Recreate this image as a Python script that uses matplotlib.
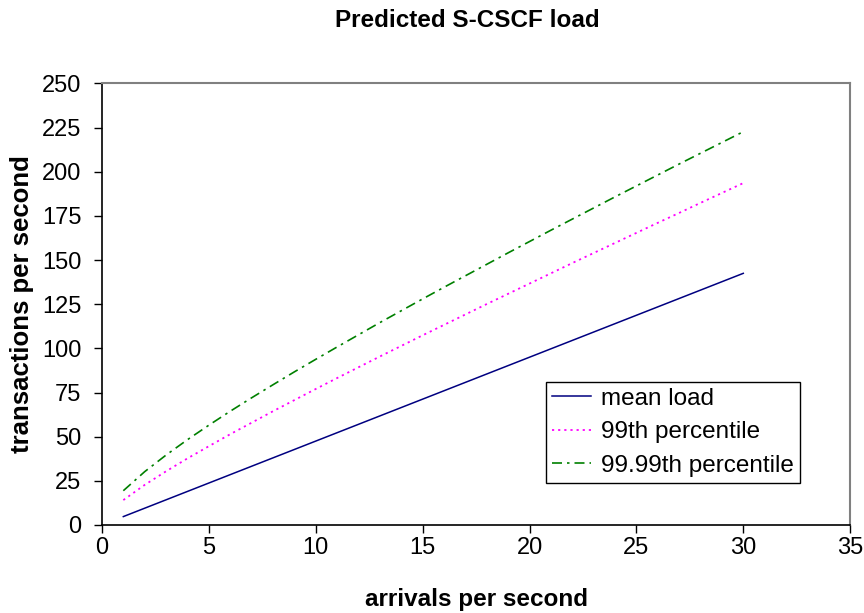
"""Predicted S-CSCF load: mean and percentile transaction rates."""

import matplotlib
matplotlib.use("Agg")
import matplotlib.pyplot as plt

plt.rcParams["font.family"] = ["Liberation Sans", "DejaVu Sans"]

arrivals = list(range(1, 31))

mean_load = [4.75, 9.5, 14.25, 19.0, 23.75, 28.5, 33.25, 38.0, 42.75, 47.5,
             52.25, 57.0, 61.75, 66.5, 71.25, 76.0, 80.75, 85.5, 90.25, 95.0,
             99.75, 104.5, 109.25, 114.0, 118.75, 123.5, 128.25, 133.0, 137.75, 142.5]

p99 = [14.1, 22.7, 30.4, 37.7, 44.6, 51.4, 57.9, 64.4, 70.7, 77.0,
       83.2, 89.3, 95.4, 101.4, 107.4, 113.3, 119.2, 125.1, 130.9, 136.7,
       142.5, 148.3, 154.0, 159.7, 165.4, 171.1, 176.7, 182.4, 188.0, 193.6]

p9999 = [19.4, 30.2, 39.6, 48.3, 56.5, 64.4, 72.0, 79.4, 86.7, 93.8,
         100.8, 107.7, 114.6, 121.3, 128.0, 134.6, 141.1, 147.6, 154.1, 160.5,
         166.9, 173.2, 179.5, 185.8, 192.0, 198.2, 204.4, 210.5, 216.6, 222.7]

x_ticks = [0, 5, 10, 15, 20, 25, 30, 35]
y_ticks = [0, 25, 50, 75, 100, 125, 150, 175, 200, 225, 250]


def main():
    fig = plt.figure(figsize=(8.64, 6.13), dpi=100)
    ax = fig.add_axes([0.118, 0.1436, 0.866, 0.7202])

    ax.plot(arrivals, mean_load, color="#000080", lw=1.1, label="mean load")
    ax.plot(arrivals, p99, color="#FF00FF", lw=1.3, ls=(0, (1.2, 2.2)),
            label="99th percentile")
    ax.plot(arrivals, p9999, color="#008000", lw=1.2, ls=(0, (6, 3, 1.5, 3)),
            label="99.99th percentile")

    ax.set_xlim(0, 35)
    ax.set_ylim(0, 250)
    ax.set_xticks(x_ticks)
    ax.set_yticks(y_ticks)
    ax.tick_params(direction="out", length=5.8, width=1, labelsize=17)
    ax.tick_params(axis="x", pad=3)
    ax.tick_params(axis="y", pad=9)

    for side in ("top", "right"):
        ax.spines[side].set_color("#808080")
        ax.spines[side].set_linewidth(1.5)
    for side in ("left", "bottom"):
        ax.spines[side].set_color("black")
        ax.spines[side].set_linewidth(1.2)

    ax.set_xlabel("arrivals per second", fontsize=17.5, fontweight="bold")
    ax.set_ylabel("transactions per second", fontsize=18.5, fontweight="bold")
    ax.xaxis.set_label_coords(0.5, -0.143)
    ax.yaxis.set_label_coords(-0.091, 0.5)

    fig.text(0.541, 0.956, "Predicted S-CSCF load", fontsize=17.5,
             fontweight="bold", ha="center", va="baseline")

    leg = ax.legend(loc="lower right", bbox_to_anchor=(0.933, 0.095),
                    borderaxespad=0, fontsize=17.5, fancybox=False,
                    framealpha=1, edgecolor="black", handlelength=1.6,
                    handletextpad=0.4, labelspacing=0.48, borderpad=0.25)
    leg.get_frame().set_linewidth(1.0)

    fig.savefig("out.png", dpi=100)
    plt.close(fig)


if __name__ == "__main__":
    main()
